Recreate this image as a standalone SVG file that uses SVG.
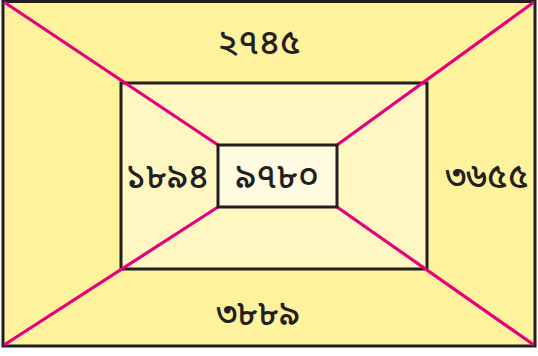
<svg xmlns="http://www.w3.org/2000/svg" width="538" height="356" viewBox="0 0 538 356">
<style>
.box{stroke:#231f20;stroke-width:3}
.ln{stroke:#e6007e;stroke-width:3.2;fill:none}
.t{font-family:"Noto Sans Bengali","Noto Sans","Lohit Bengali","Vrinda",sans-serif;font-size:35px;font-weight:500;fill:#231f20;text-anchor:middle}
</style>
<rect width="538" height="356" fill="#ffffff"/>
<g id="outer"><rect class="box" x="3" y="1.5" width="532" height="344.5" fill="#fff29c"/></g>
<g id="middle"><rect class="box" x="121" y="83" width="306" height="186" fill="#fff7c2"/></g>
<g id="connectors">
<line class="ln" x1="4" y1="2" x2="218" y2="145"/>
<line class="ln" x1="534" y1="2" x2="337" y2="145"/>
<line class="ln" x1="4" y1="345" x2="218" y2="207"/>
<line class="ln" x1="534" y1="345" x2="337" y2="207"/>
</g>
<g id="center"><rect class="box" x="218" y="145" width="119" height="62" fill="#fffbe0"/><text class="t" x="277" y="188">৯৭৮০</text></g>
<g id="top"><text class="t" x="259" y="54">২৭৪৫</text></g>
<g id="left"><text class="t" x="167" y="188">১৮৯৪</text></g>
<g id="right"><text class="t" x="487" y="188">৩৬৫৫</text></g>
<g id="bottom"><text class="t" x="258" y="325">৩৮৮৯</text></g>
</svg>
